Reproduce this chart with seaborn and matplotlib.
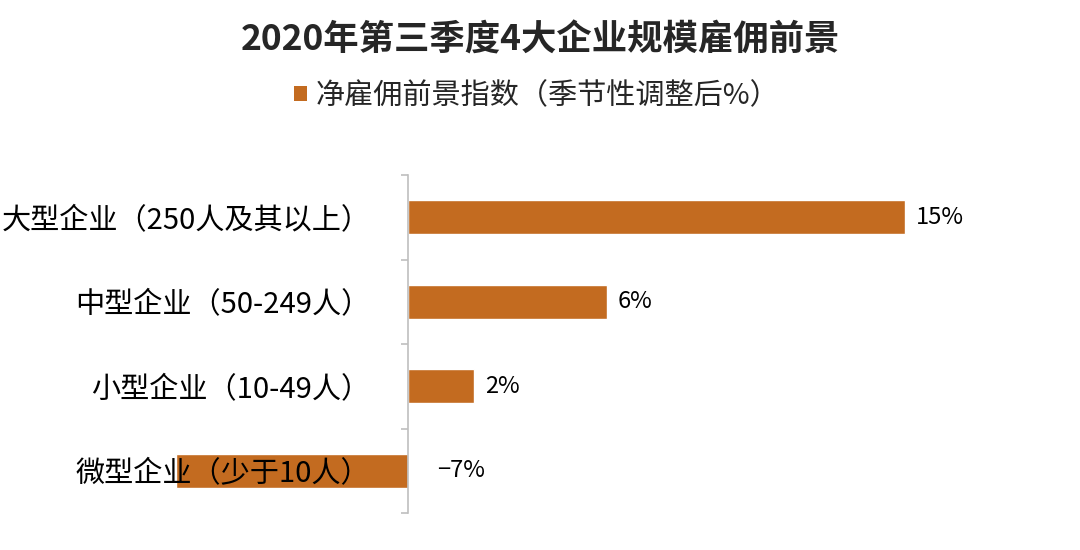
import matplotlib
matplotlib.use("Agg")
import matplotlib.pyplot as plt
import seaborn as sns
import pandas as pd
from matplotlib.patches import Patch

categories = ["大型企业（250人及其以上）", "中型企业（50-249人）", "小型企业（10-49人）", "微型企业（少于10人）"]
values = [15, 6, 2, -7]
value_labels = ["15%", "6%", "2%", "−7%"]
title = "2020年第三季度4大企业规模雇佣前景"
legend_label = "净雇佣前景指数（季节性调整后%）"

sns.set_style("white")
plt.rcParams['font.family'] = ['Noto Sans CJK SC', 'DejaVu Sans']

bar_color = "#C36B20"
W, H = 1080, 550
fig = plt.figure(figsize=(W / 100, H / 100), dpi=100)
left_px, right_px, top_px, bottom_px = 170, 1060, 175, 513
ax = fig.add_axes([left_px / W, 1 - bottom_px / H, (right_px - left_px) / W, (bottom_px - top_px) / H])

df = pd.DataFrame({"cat": categories, "val": values})
sns.barplot(data=df, x="val", y="cat", orient="h", color=bar_color, width=0.4,
            saturation=1, ax=ax, order=categories)

scale = 33.1
ax.set_xlim(-(408 - left_px) / scale, (right_px - 408) / scale)
ax.set_ylim(3.5, -0.5)
ax.set_xlabel("")
ax.set_ylabel("")
ax.set_xticks([])

for s in ["top", "right", "bottom"]:
    ax.spines[s].set_visible(False)
ax.spines["left"].set_position(("data", 0))
ax.spines["left"].set_color("#BFBFBF")
ax.spines["left"].set_linewidth(1.2)

ax.set_yticks(range(len(categories)))
ax.set_yticklabels(categories, fontsize=21, color="black")
ax.tick_params(axis="y", which="major", left=False, length=0, pad=27)
ax.set_yticks([i - 0.5 for i in range(len(categories) + 1)], minor=True)
ax.tick_params(axis="y", which="minor", left=True, length=5, width=1.2, color="#BFBFBF", direction="out")
ax.yaxis.set_zorder(3)

for i, (v, lab) in enumerate(zip(values, value_labels)):
    if v >= 0:
        ax.annotate(lab, xy=(v, i), xytext=(8, 0), textcoords="offset points",
                    va="center", ha="left", fontsize=17, color="black")
    else:
        ax.annotate(lab, xy=(0, i), xytext=(21, 0), textcoords="offset points",
                    va="center", ha="left", fontsize=17, color="black")

fig.text(540 / W, 1 - 40 / H, title, ha="center", va="center", fontsize=25.5, fontweight="bold")

handle = Patch(facecolor=bar_color, edgecolor="none")
fig.legend(handles=[handle], labels=[legend_label], loc="center", bbox_to_anchor=(537 / W, 1 - 96 / H),
           frameon=False, fontsize=21, handlelength=0.45, handleheight=0.45, handletextpad=0.3)

fig.savefig("out.png", dpi=100)
